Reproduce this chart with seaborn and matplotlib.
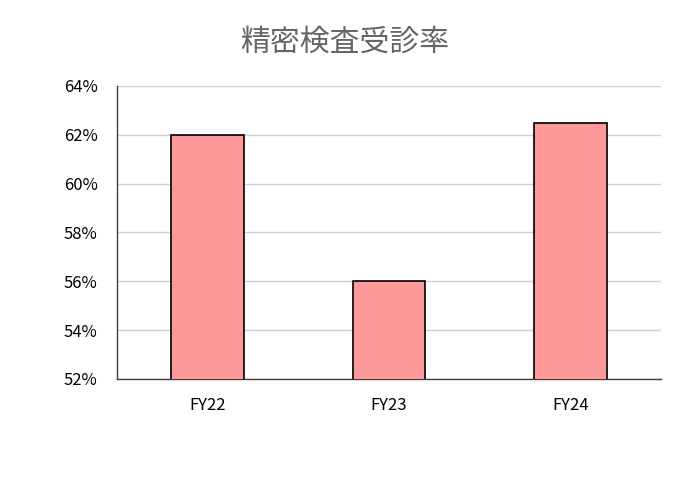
import matplotlib
matplotlib.use("Agg")
import matplotlib.pyplot as plt
import matplotlib.ticker as mticker
import pandas as pd
import seaborn as sns

years = ["FY22", "FY23", "FY24"]
rates = [62.0, 56.0, 62.5]
title = "精密検査受診率"

sns.set_theme(style="white")
plt.rcParams['font.family'] = ['Noto Sans CJK JP', 'DejaVu Sans']

df = pd.DataFrame({"year": years, "rate": rates})

fig = plt.figure(figsize=(6.9, 4.8), dpi=100)
ax = fig.add_axes([117 / 690, 1 - 379 / 480, 544 / 690, 293 / 480])

sns.barplot(data=df, x="year", y="rate", color="#FF9999", saturation=1,
            width=0.4, edgecolor="black", linewidth=1.2, ax=ax, zorder=3)

ax.set_ylim(52, 64)
ax.set_xlim(-0.5, 2.5)
ax.yaxis.set_major_locator(mticker.MultipleLocator(2))
ax.yaxis.set_major_formatter(mticker.FuncFormatter(lambda v, p: f"{v:.0f}%"))
ax.grid(axis="y", color="#D0D0D0", linewidth=1.0, zorder=0)
ax.set_axisbelow(True)
ax.set_xlabel("")
ax.set_ylabel("")
for s in ["top", "right"]:
    ax.spines[s].set_visible(False)
for s in ["left", "bottom"]:
    ax.spines[s].set_color("#404040")
    ax.spines[s].set_linewidth(1.0)
ax.tick_params(axis="both", length=0, labelsize=12, colors="black")
ax.tick_params(axis="y", pad=14)
ax.tick_params(axis="x", pad=13)

fig.text(0.5, 1 - 42 / 480, title, ha="center", va="center",
         fontsize=21.5, color="#666666")

fig.savefig("out.png", dpi=100)
